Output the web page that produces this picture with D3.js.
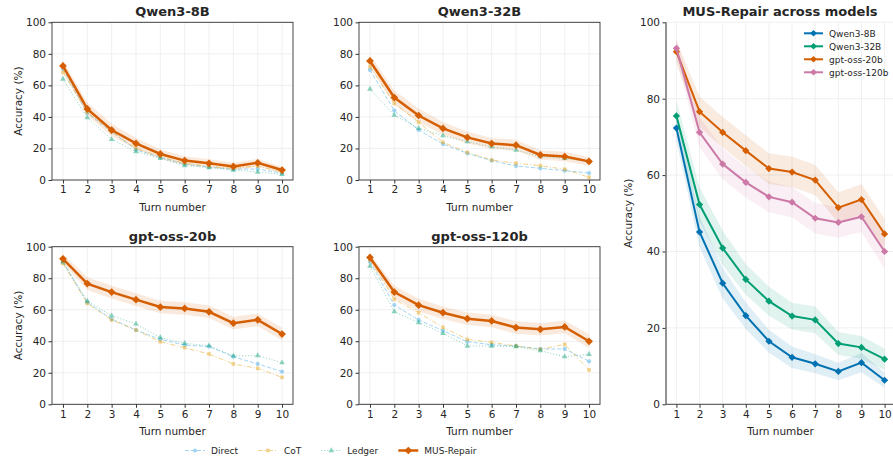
<!DOCTYPE html>
<html>
<head>
<meta charset="utf-8">
<script src="https://cdn.jsdelivr.net/npm/d3@7"></script>
<style>
  body { margin: 0; background: #fff; }
  text { font-family: "DejaVu Sans", sans-serif; fill: #262626; }
</style>
</head>
<body>
<div id="chart"></div>
<script>
// 1: DATA
const turns = [1, 2, 3, 4, 5, 6, 7, 8, 9, 10];
const models = ["Qwen3-8B", "Qwen3-32B", "gpt-oss-20b", "gpt-oss-120b"];
const methods = ["Direct", "CoT", "Ledger", "MUS-Repair"];
const yTicks = [0, 20, 40, 60, 80, 100];

const qwen8bDirect = [70.5, 42.5, 30.6, 19.2, 14.4, 10.0, 8.2, 6.8, 7.0, 4.3];
const qwen8bCot    = [68.3, 43.0, 30.8, 20.0, 14.8, 10.6, 8.6, 7.4, 8.8, 5.2];
const qwen8bLedger = [64.0, 39.5, 25.8, 18.0, 13.7, 9.2, 7.8, 6.3, 5.0, 3.6];
const qwen8bMus    = [72.3, 45.1, 31.7, 23.2, 16.5, 12.3, 10.6, 8.6, 10.9, 6.3];

const qwen32bDirect = [69.8, 44.0, 31.7, 22.8, 16.9, 12.3, 8.9, 7.4, 5.9, 4.4];
const qwen32bCot    = [71.9, 48.6, 36.6, 23.9, 17.5, 12.7, 10.6, 9.1, 6.8, 1.7];
const qwen32bLedger = [57.7, 41.2, 32.8, 28.1, 24.3, 21.1, 19.0, 14.8, 13.7, 11.6];
const qwen32bMus    = [75.5, 52.3, 40.9, 32.7, 27.0, 23.1, 22.1, 15.9, 14.9, 11.8];

const oss20bDirect = [90.0, 64.7, 54.1, 47.1, 41.2, 37.6, 36.6, 30.2, 25.6, 20.7];
const oss20bCot    = [89.4, 64.0, 53.5, 47.1, 39.7, 35.9, 31.9, 25.6, 22.8, 17.1];
const oss20bLedger = [90.5, 65.5, 56.2, 51.0, 42.3, 38.7, 37.2, 30.7, 30.9, 26.4];
const oss20bMus    = [92.3, 76.6, 71.2, 66.4, 61.7, 60.8, 58.7, 51.5, 53.6, 44.6];

const oss120bDirect = [90.5, 63.0, 53.5, 46.7, 39.7, 37.8, 37.0, 35.1, 35.1, 27.3];
const oss120bCot    = [91.5, 66.6, 58.1, 48.8, 41.2, 39.3, 37.0, 34.9, 38.0, 21.8];
const oss120bLedger = [87.7, 58.8, 51.8, 45.0, 37.0, 37.0, 36.6, 34.0, 30.2, 31.7];
const oss120bMus    = [93.2, 71.2, 62.9, 58.1, 54.3, 52.9, 48.7, 47.6, 49.1, 40.0];

// half-width of the shaded band around MUS-Repair
const qwen8bBand  = [3.5, 4.0, 4.0, 3.5, 3.0, 2.8, 2.5, 2.3, 2.5, 2.0];
const qwen32bBand = [4.0, 4.5, 4.5, 4.0, 3.8, 3.5, 3.5, 3.0, 3.0, 2.8];
const oss20bBand  = [3.0, 4.0, 4.0, 4.0, 4.0, 4.0, 4.0, 4.0, 4.0, 4.0];
const oss120bBand = [2.5, 4.0, 4.0, 4.0, 4.0, 4.0, 4.0, 4.0, 4.0, 4.5];

// table used by the drawing code
const results = {
  "Qwen3-8B":     { Direct: qwen8bDirect, CoT: qwen8bCot, Ledger: qwen8bLedger, "MUS-Repair": qwen8bMus, band: qwen8bBand },
  "Qwen3-32B":    { Direct: qwen32bDirect, CoT: qwen32bCot, Ledger: qwen32bLedger, "MUS-Repair": qwen32bMus, band: qwen32bBand },
  "gpt-oss-20b":  { Direct: oss20bDirect, CoT: oss20bCot, Ledger: oss20bLedger, "MUS-Repair": oss20bMus, band: oss20bBand },
  "gpt-oss-120b": { Direct: oss120bDirect, CoT: oss120bCot, Ledger: oss120bLedger, "MUS-Repair": oss120bMus, band: oss120bBand }
};

// 2: STYLES
const methodStyle = {
  "Direct":     { color: "#56b4e9", dash: "4,2",     symbol: d3.symbolCircle,   size: 14, width: 1,   opacity: 0.55 },
  "CoT":        { color: "#e69f00", dash: "5,2,1,2", symbol: d3.symbolSquare,   size: 13, width: 1,   opacity: 0.45 },
  "Ledger":     { color: "#009e73", dash: "1,2",     symbol: d3.symbolTriangle, size: 14, width: 1,   opacity: 0.45 },
  "MUS-Repair": { color: "#d55e00", dash: null,      symbol: d3.symbolSquare,   size: 30, width: 2.5, opacity: 1 }
};
const modelColor = { "Qwen3-8B": "#0072b2", "Qwen3-32B": "#009e73", "gpt-oss-20b": "#d55e00", "gpt-oss-120b": "#cc79a7" };

const W = 893, H = 458;
const svg = d3.select("#chart").append("svg").attr("width", W).attr("height", H);

function markerPath(sym, size, diamond) {
  return d3.symbol().type(sym).size(size)();
}

function drawSmall(model, box, showYLabel) {
  const w = box.right - box.left, h = box.bottom - box.top;
  const g = svg.append("g").attr("transform", `translate(${box.left},${box.top})`);
  const x = d3.scaleLinear().domain([0.55, 10.45]).range([0, w]);
  const y = d3.scaleLinear().domain([0, 100]).range([h, 0]);

  // grid
  g.selectAll(".gx").data(turns).join("line")
    .attr("x1", d => x(d)).attr("x2", d => x(d)).attr("y1", 0).attr("y2", h)
    .attr("stroke", "#ececec").attr("stroke-width", 0.8);
  g.selectAll(".gy").data(yTicks).join("line")
    .attr("x1", 0).attr("x2", w).attr("y1", d => y(d)).attr("y2", d => y(d))
    .attr("stroke", "#ececec").attr("stroke-width", 0.8);

  const r = results[model];

  // band
  const area = d3.area().x((d, i) => x(turns[i]))
    .y0((d, i) => y(d - r.band[i])).y1((d, i) => y(d + r.band[i]));
  g.append("path").datum(r["MUS-Repair"]).attr("d", area)
    .attr("fill", "#d55e00").attr("opacity", 0.13);

  const line = d3.line().x((d, i) => x(turns[i])).y(d => y(d));
  methods.forEach(m => {
    const st = methodStyle[m];
    const sg = g.append("g").attr("opacity", st.opacity);
    sg.append("path").datum(r[m]).attr("d", line)
      .attr("fill", "none").attr("stroke", st.color).attr("stroke-width", st.width)
      .attr("stroke-dasharray", st.dash);
    sg.selectAll("path.mk").data(r[m]).join("path").attr("class", "mk")
      .attr("d", d3.symbol().type(st.symbol).size(st.size))
      .attr("transform", (d, i) => `translate(${x(turns[i])},${y(d)})` + (m === "MUS-Repair" ? " rotate(45)" : ""))
      .attr("fill", st.color);
  });

  // axes
  const xa = g.append("g").attr("transform", `translate(0,${h})`)
    .call(d3.axisBottom(x).tickValues(turns).tickSize(3.5).tickPadding(2.5));
  const ya = g.append("g")
    .call(d3.axisLeft(y).tickValues(yTicks).tickSize(3.5).tickPadding(2.5));
  [xa, ya].forEach(a => {
    a.select(".domain").remove();
    a.selectAll("line").attr("stroke", "#333");
    a.selectAll("text").attr("font-size", 10.5).attr("fill", "#262626")
      .style("font-family", "DejaVu Sans");
  });
  g.append("rect").attr("width", w).attr("height", h)
    .attr("fill", "none").attr("stroke", "#333").attr("stroke-width", 0.9);

  g.append("text").attr("x", w / 2).attr("y", -6).attr("text-anchor", "middle")
    .attr("font-size", 13).attr("font-weight", "bold").attr("fill", "#111").text(model);
  g.append("text").attr("x", w / 2).attr("y", h + 31).attr("text-anchor", "middle")
    .attr("font-size", 10.5).text("Turn number");
  if (showYLabel) {
    g.append("text").attr("transform", "rotate(-90)").attr("x", -h / 2).attr("y", -30)
      .attr("text-anchor", "middle").attr("font-size", 10.5).text("Accuracy (%)");
  }
}

drawSmall("Qwen3-8B",     { left: 52,  right: 293, top: 22.3,  bottom: 180 },   true);
drawSmall("Qwen3-32B",    { left: 359, right: 600, top: 22.3,  bottom: 180 },   false);
drawSmall("gpt-oss-20b",  { left: 52,  right: 293, top: 246.7, bottom: 404.3 }, true);
drawSmall("gpt-oss-120b", { left: 359, right: 600, top: 246.7, bottom: 404.3 }, false);

// 3: RIGHT PANEL
(function drawRight() {
  const box = { left: 666, right: 895, top: 22.3, bottom: 404.3 };
  const w = box.right - box.left, h = box.bottom - box.top;
  const g = svg.append("g").attr("transform", `translate(${box.left},${box.top})`);
  const x = d3.scaleLinear().domain([0.55, 10.45]).range([0, w]);
  const y = d3.scaleLinear().domain([0, 100]).range([h, 0]);

  g.selectAll(".gx").data(turns).join("line")
    .attr("x1", d => x(d)).attr("x2", d => x(d)).attr("y1", 0).attr("y2", h)
    .attr("stroke", "#ececec").attr("stroke-width", 0.8);
  g.selectAll(".gy").data(yTicks).join("line")
    .attr("x1", 0).attr("x2", w).attr("y1", d => y(d)).attr("y2", d => y(d))
    .attr("stroke", "#ececec").attr("stroke-width", 0.8);

  const line = d3.line().x((d, i) => x(turns[i])).y(d => y(d));
  models.forEach(m => {
    const r = results[m];
    const area = d3.area().x((d, i) => x(turns[i]))
      .y0((d, i) => y(d - r.band[i])).y1((d, i) => y(d + r.band[i]));
    g.append("path").datum(r["MUS-Repair"]).attr("d", area)
      .attr("fill", modelColor[m]).attr("opacity", 0.12);
  });
  models.forEach(m => {
    const r = results[m];
    g.append("path").datum(r["MUS-Repair"]).attr("d", line)
      .attr("fill", "none").attr("stroke", modelColor[m]).attr("stroke-width", 2);
    g.selectAll(null).data(r["MUS-Repair"]).join("path")
      .attr("d", d3.symbol().type(d3.symbolSquare).size(26))
      .attr("transform", (d, i) => `translate(${x(turns[i])},${y(d)}) rotate(45)`)
      .attr("fill", modelColor[m]);
  });

  const xa = g.append("g").attr("transform", `translate(0,${h})`)
    .call(d3.axisBottom(x).tickValues(turns).tickSize(3.5).tickPadding(2.5));
  const ya = g.append("g")
    .call(d3.axisLeft(y).tickValues(yTicks).tickSize(3.5).tickPadding(2.5));
  [xa, ya].forEach(a => {
    a.select(".domain").remove();
    a.selectAll("line").attr("stroke", "#333");
    a.selectAll("text").attr("font-size", 10.5).attr("fill", "#262626")
      .style("font-family", "DejaVu Sans");
  });
  g.append("line").attr("x1", 0).attr("x2", 0).attr("y1", 0).attr("y2", h)
    .attr("stroke", "#777").attr("stroke-width", 1.6);
  g.append("line").attr("x1", 0).attr("x2", w).attr("y1", h).attr("y2", h)
    .attr("stroke", "#444").attr("stroke-width", 1);

  g.append("text").attr("x", 114).attr("y", -6).attr("text-anchor", "middle")
    .attr("font-size", 13).attr("font-weight", "bold").attr("fill", "#111").text("MUS-Repair across models");
  g.append("text").attr("x", x(5.5)).attr("y", h + 31).attr("text-anchor", "middle")
    .attr("font-size", 10.5).text("Turn number");
  g.append("text").attr("transform", "rotate(-90)").attr("x", -h / 2).attr("y", -34)
    .attr("text-anchor", "middle").attr("font-size", 10.5).text("Accuracy (%)");

  // legend
  const lg = g.append("g").attr("transform", "translate(138,11)");
  models.forEach((m, i) => {
    const row = lg.append("g").attr("transform", `translate(0,${i * 13})`);
    row.append("line").attr("x1", 0).attr("x2", 19).attr("stroke", modelColor[m]).attr("stroke-width", 2);
    row.append("path").attr("d", d3.symbol().type(d3.symbolSquare).size(22))
      .attr("transform", "translate(9.5,0) rotate(45)").attr("fill", modelColor[m]);
    row.append("text").attr("x", 25).attr("y", 3.3).attr("font-size", 9).text(m);
  });
})();

// 4: BOTTOM LEGEND
const bl = svg.append("g").attr("transform", "translate(185,450.5)");
let lx = 0;
methods.forEach(m => {
  const st = methodStyle[m];
  const item = bl.append("g").attr("transform", `translate(${lx},0)`);
  const h = item.append("g").attr("opacity", st.opacity);
  h.append("line").attr("x1", 0).attr("x2", 20).attr("stroke", st.color)
    .attr("stroke-width", st.width).attr("stroke-dasharray", st.dash);
  h.append("path").attr("d", d3.symbol().type(st.symbol).size(st.size))
    .attr("transform", "translate(10,0)" + (m === "MUS-Repair" ? " rotate(45)" : ""))
    .attr("fill", st.color);
  const t = item.append("text").attr("x", 26).attr("y", 3.3).attr("font-size", 9).text(m);
  lx += 26 + t.node().getComputedTextLength() + 20;
});
</script>
</body>
</html>
